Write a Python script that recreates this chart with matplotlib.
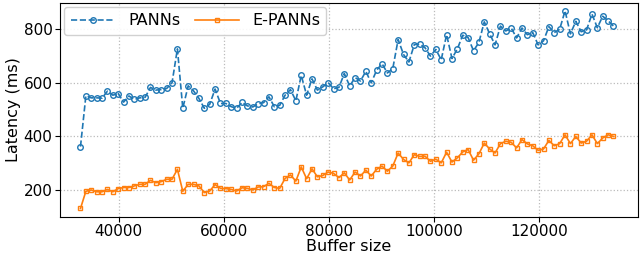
import numpy as np
import matplotlib
matplotlib.use("Agg")
import matplotlib.pyplot as plt

# Buffer sizes: regular steps of 1024 from 32768
buffer_sizes = np.arange(32768, 134145, 1024)

panns = [362, 552, 544, 544, 543, 569, 554, 560, 528, 551,
         538, 544, 546, 583, 573, 575, 579, 600, 727, 505,
         589, 570, 542, 505, 520, 577, 523, 523, 511, 505,
         527, 514, 510, 522, 526, 548, 511, 516, 554, 575,
         533, 628, 554, 615, 573, 585, 601, 578, 583, 635,
         588, 620, 607, 643, 600, 647, 672, 637, 653, 762,
         706, 678, 743, 745, 731, 700, 725, 686, 780, 691,
         727, 778, 769, 720, 751, 828, 783, 742, 812, 794,
         805, 768, 805, 780, 788, 742, 757, 810, 788, 800,
         869, 783, 830, 791, 798, 857, 806, 849, 832, 812]

e_panns = [131, 195, 200, 193, 193, 202, 193, 205, 209, 209,
           215, 221, 221, 236, 227, 231, 240, 240, 277, 195,
           221, 221, 215, 190, 196, 220, 206, 205, 202, 196,
           208, 206, 200, 211, 212, 225, 209, 206, 243, 256,
           233, 286, 242, 279, 249, 254, 267, 262, 246, 264,
           237, 267, 252, 274, 252, 277, 289, 270, 289, 338,
           314, 301, 332, 325, 326, 307, 315, 301, 341, 304,
           320, 342, 351, 311, 335, 375, 353, 338, 373, 382,
           378, 357, 388, 372, 365, 348, 353, 385, 365, 373,
           406, 373, 400, 375, 382, 406, 373, 394, 406, 400]

series_labels = ["PANNs", "E-PANNs"]
x_ticks = [40000, 60000, 80000, 100000, 120000]
y_ticks = [200, 400, 600, 800]

fig = plt.figure(figsize=(6.4, 2.58), dpi=100)
ax = fig.add_axes([0.094, 0.16, 0.903, 0.828])

ax.plot(buffer_sizes, panns, linestyle="--", color="#1f77b4", marker="o",
        markersize=4, markerfacecolor="none", markeredgewidth=1.0,
        linewidth=1.2, label=series_labels[0])
ax.plot(buffer_sizes, e_panns, linestyle="-", color="#ff7f0e", marker="s",
        markersize=3.5, markerfacecolor="none", markeredgewidth=1.0,
        linewidth=1.2, label=series_labels[1])

ax.set_xticks(x_ticks)
ax.set_yticks(y_ticks)
ax.set_xlim(28900, 138820)
ax.set_ylim(100, 898)
ax.tick_params(labelsize=11, pad=2)
ax.set_xlabel("Buffer size", fontsize=11.5, labelpad=0)
ax.set_ylabel("Latency (ms)", fontsize=11.5, labelpad=2)
ax.grid(True, linestyle=":", color="#bbbbbb", linewidth=0.9)
ax.legend(loc="upper left", ncol=2, fontsize=11.5, handlelength=2.8,
          handletextpad=0.8, borderaxespad=0.25, columnspacing=0.9,
          framealpha=0.9)

fig.savefig("out.png", dpi=100)
